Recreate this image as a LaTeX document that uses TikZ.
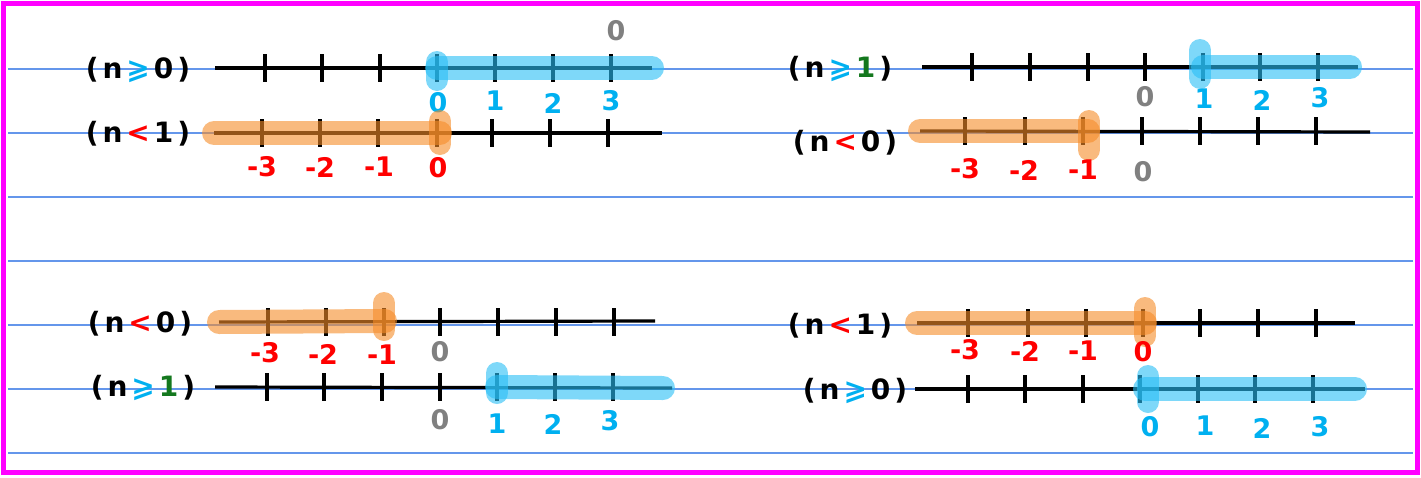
\documentclass[tikz,border=0pt]{standalone}
\usepackage{fontspec}
\setmainfont{DejaVu Sans}
\definecolor{hlblue}{RGB}{40,190,245}
\definecolor{hlorange}{RGB}{245,140,40}
\definecolor{tblue}{RGB}{0,176,240}
\definecolor{tred}{RGB}{255,0,0}
\definecolor{tgray}{RGB}{128,128,128}
\definecolor{tgreen}{RGB}{20,120,30}
\definecolor{rulecol}{RGB}{100,150,235}
\definecolor{framecol}{RGB}{255,0,255}
\newcommand{\gp}{\hspace{4pt}}
\begin{document}
\begin{tikzpicture}[x=1pt,y=-1pt,
  axis/.style={line width=3.2pt,black},
  tk/.style={line width=3.2pt,black},
  hlb/.style={line width=24pt,line cap=round,draw=hlblue,opacity=0.6},
  hlo/.style={line width=24pt,line cap=round,draw=hlorange,opacity=0.6},
  lab/.style={font=\bfseries\fontsize{28}{30}\selectfont,inner sep=0pt},
  num/.style={font=\bfseries\fontsize{27}{29}\selectfont,inner sep=0pt},
  rl/.style={draw=rulecol,line width=1.2pt}]
\useasboundingbox (0,0) rectangle (1421,477);
% ruled lines
\foreach \yy in {69,133,197,261,325,389,453}
  \draw[rl] (8,\yy) -- (1413,\yy);
% frame
\draw[framecol,line width=5pt] (3,3) rectangle (1417,472);

% ---------- Panel 1 ----------
\node[lab] (la) at (138,70) {(\gp n\gp\textcolor{tblue}{⩾}\gp 0\gp)};
\coordinate (A0) at (215,68); \coordinate (A1) at (652,68);
\draw[axis] (A0) -- (A1);
\foreach \x in {265,322,380,437,495,553,611} \draw[tk] (\x,54) -- (\x,82);
\coordinate (Ah) at (437,68);
\draw[hlb] (Ah) -- (A1);
\draw[hlb,line width=22pt] (437,62) -- (437,80);
\node[num,text=tblue] (a0) at (438,103) {0};
\node[num,text=tblue] (a1) at (495,101) {1};
\node[num,text=tblue] (a2) at (553,103) {2};
\node[num,text=tblue] (a3) at (611,101) {3};
\node[num,text=tgray] (ag) at (616,31) {0};

\node[lab] (lb) at (138,134) {(\gp n\gp\textcolor{tred}{<}\gp 1\gp)};
\coordinate (B0) at (214,133); \coordinate (B1) at (662,133);
\draw[axis] (B0) -- (B1);
\foreach \x in {262,320,378,437,492,550,608} \draw[tk] (\x,119) -- (\x,147);
\coordinate (Bh) at (440,133);
\draw[hlo] (B0) -- (Bh);
\draw[hlo,line width=22pt] (440,121) -- (440,144);
\node[num,text=tred] (b3) at (262,167) {-3};
\node[num,text=tred] (b2) at (320,167) {-2};
\node[num,text=tred] (b1) at (379,167) {-1};
\node[num,text=tred] (b0) at (438,168) {0};

% ---------- Panel 2 ----------
\node[lab] (lc) at (840,69) {(\gp n\gp\textcolor{tblue}{⩾}\gp\textcolor{tgreen}{1}\gp)};
\coordinate (C0) at (922,67); \coordinate (C1) at (1358,67);
\draw[axis] (C0) -- (C1);
\foreach \x in {972,1030,1088,1145,1203,1260,1318} \draw[tk] (\x,53) -- (\x,81);
\coordinate (Ch) at (1203,67); \coordinate (Ce) at (1350,67);
\draw[hlb] (Ch) -- (Ce);
\draw[hlb,line width=22pt] (1200,50) -- (1200,78);
\node[num,text=tgray] (cg) at (1145,97) {0};
\node[num,text=tblue] (c1) at (1204,99) {1};
\node[num,text=tblue] (c2) at (1262,100) {2};
\node[num,text=tblue] (c3) at (1320,98) {3};

\node[lab] (ld) at (845,143) {(\gp n\gp\textcolor{tred}{<}\gp 0\gp)};
\coordinate (D0) at (920,131); \coordinate (D1) at (1370,132);
\draw[axis] (D0) -- (D1);
\foreach \x in {965,1025,1083,1142,1200,1258,1316} \draw[tk] (\x,117) -- (\x,145);
\coordinate (Dh) at (1088,131);
\draw[hlo] (D0) -- (Dh);
\draw[hlo,line width=22pt] (1089,121) -- (1089,150);
\node[num,text=tred] (d3) at (965,169) {-3};
\node[num,text=tred] (d2) at (1024,170) {-2};
\node[num,text=tred] (d1) at (1083,170) {-1};
\node[num,text=tgray] (dg) at (1143,172) {0};

% ---------- Panel 3 ----------
\node[lab] (le) at (140,324) {(\gp n\gp\textcolor{tred}{<}\gp 0\gp)};
\coordinate (E0) at (219,322); \coordinate (E1) at (655,321);
\draw[axis] (E0) -- (E1);
\foreach \x in {268,326,384,440,498,556,614} \draw[tk] (\x,308) -- (\x,336);
\coordinate (Eh) at (385,321);
\draw[hlo] (E0) -- (Eh);
\draw[hlo,line width=22pt] (384,303) -- (384,330);
\node[num,text=tred] (e3) at (265,353) {-3};
\node[num,text=tred] (e2) at (323,354) {-2};
\node[num,text=tred] (e1) at (382,355) {-1};
\node[num,text=tgray] (eg) at (440,352) {0};

\node[lab] (lf) at (143,388) {(\gp n\gp\textcolor{tblue}{⩾}\gp\textcolor{tgreen}{1}\gp)};
\coordinate (F0) at (215,387); \coordinate (F1) at (672,388);
\draw[axis] (F0) -- (F1);
\foreach \x in {267,324,382,440,497,555,613} \draw[tk] (\x,373) -- (\x,401);
\coordinate (Fh) at (497,387); \coordinate (Fe) at (663,388);
\draw[hlb] (Fh) -- (Fe);
\draw[hlb,line width=22pt] (497,373) -- (497,393);
\node[num,text=tgray] (fg) at (440,420) {0};
\node[num,text=tblue] (f1) at (497,424) {1};
\node[num,text=tblue] (f2) at (553,424) {2};
\node[num,text=tblue] (f3) at (610,421) {3};

% ---------- Panel 4 ----------
\node[lab] (lg) at (840,326) {(\gp n\gp\textcolor{tred}{<}\gp 1\gp)};
\coordinate (G0) at (917,323); \coordinate (G1) at (1355,323);
\draw[axis] (G0) -- (G1);
\foreach \x in {968,1028,1086,1143,1200,1258,1316} \draw[tk] (\x,309) -- (\x,337);
\coordinate (Gh) at (1145,323);
\draw[hlo] (G0) -- (Gh);
\draw[hlo,line width=22pt] (1145,308) -- (1145,336);
\node[num,text=tred] (g3) at (965,350) {-3};
\node[num,text=tred] (g2) at (1025,351) {-2};
\node[num,text=tred] (g1) at (1083,351) {-1};
\node[num,text=tred] (g0) at (1143,352) {0};

\node[lab] (lh) at (855,391) {(\gp n\gp\textcolor{tblue}{⩾}\gp 0\gp)};
\coordinate (H0) at (915,389); \coordinate (H1) at (1365,389);
\draw[axis] (H0) -- (H1);
\foreach \x in {968,1025,1083,1140,1198,1255,1313} \draw[tk] (\x,375) -- (\x,403);
\coordinate (Hh) at (1145,389); \coordinate (He) at (1355,389);
\draw[hlb] (Hh) -- (He);
\draw[hlb,line width=22pt] (1148,376) -- (1148,402);
\node[num,text=tblue] (h0) at (1150,427) {0};
\node[num,text=tblue] (h1) at (1205,426) {1};
\node[num,text=tblue] (h2) at (1262,428) {2};
\node[num,text=tblue] (h3) at (1320,427) {3};
\end{tikzpicture}
\end{document}
